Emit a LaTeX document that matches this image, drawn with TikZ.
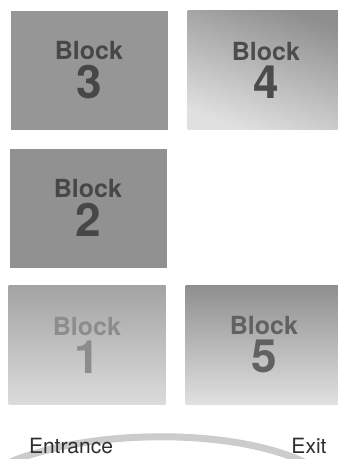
\documentclass[tikz,border=0pt]{standalone}
\usepackage{fontspec}
\setmainfont{TeX Gyre Heros}
\usepackage{tikz}

\begin{document}
\begin{tikzpicture}[
  x=1pt, y=-1pt,
  block/.style={rectangle, minimum width=157pt, minimum height=119pt,
    inner sep=0pt, align=center, font=\bfseries},
  dark/.style={block, fill=black!43, text=black!72},
  fade/.style={block, top color=black!44, bottom color=black!12},
  pale/.style={block, top color=black!36, bottom color=black!14, text=black!45},
  label/.style={inner sep=0pt, anchor=base, font=\fontsize{21}{21}\selectfont, text=black!82}
]
\useasboundingbox (0,0) rectangle (338,459);
\clip (0,0) rectangle (338,459);
\newcommand{\blk}[1]{{\fontsize{25}{20}\selectfont Block}\\[4pt]{\fontsize{46}{34}\selectfont #1}}

\node[dark, fill=black!41] (b3) at (89,70) {\blk{3}};
\node[fade, text=black!70, shading angle=-20] (b4) at (266,70) {\blk{4}};
\node[dark] (b2) at (88,208) {\blk{2}};
\node[pale] (b1) at (87,345) {\blk{1}};
\node[fade, text=black!62] (b5) at (264,345) {\blk{5}};

% walkway
\coordinate (wayin) at (8,463);
\coordinate (wayout) at (306,463);
\draw[black!20, line width=7pt] (wayin) .. controls (90,428) and (235,428) .. (wayout);

\node[label] (entrance) at (71,453) {Entrance};
\node[label] (exit) at (309,453) {Exit};
\end{tikzpicture}
\end{document}
